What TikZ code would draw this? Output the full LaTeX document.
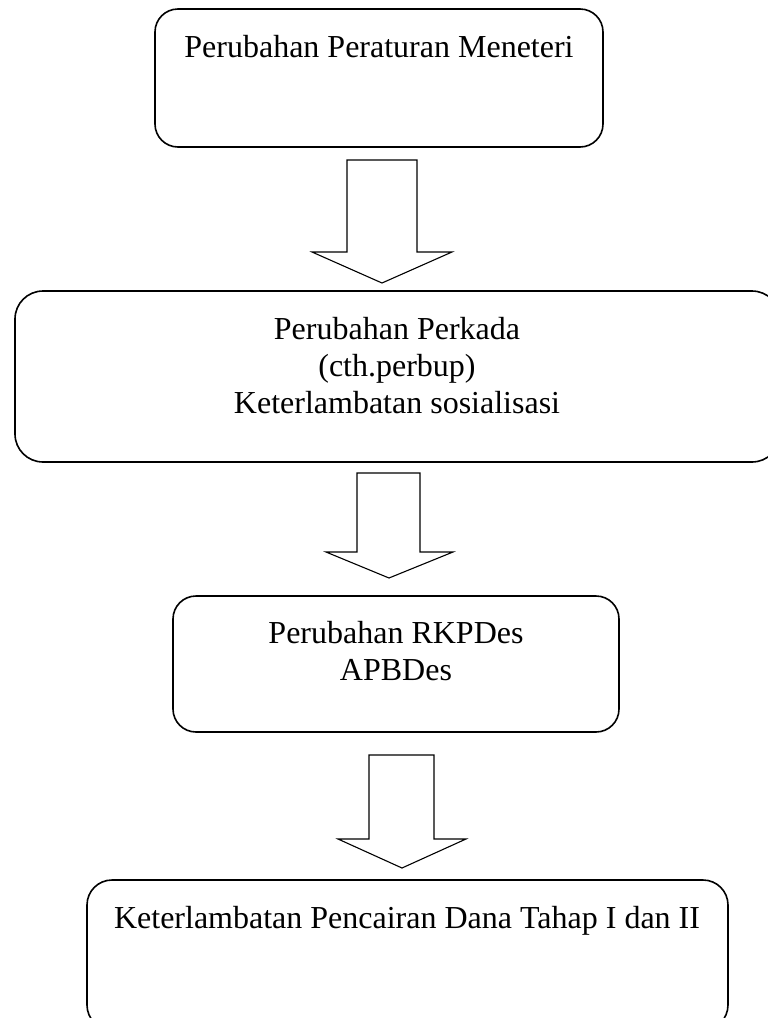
\documentclass[tikz,border=0pt]{standalone}
\usepackage{fontspec}
\setmainfont{Liberation Serif}
\begin{document}
\begin{tikzpicture}[x=1pt,y=-1pt,
  box/.style={draw, line width=1.6pt, inner sep=0pt},
  lbl/.style={anchor=base, inner sep=0pt, font=\fontsize{32}{37}\selectfont},
  blockarrow/.style={draw, line width=1.1pt, line join=miter}]
\useasboundingbox (0,0) rectangle (768,1018);
% boxes
\node[box, rounded corners=23pt, minimum width=448pt, minimum height=138pt] (b1) at (379,78) {};
\node[box, rounded corners=28pt, minimum width=765pt, minimum height=171pt] (b2) at (397.5,376.5) {};
\node[box, rounded corners=23pt, minimum width=446pt, minimum height=136pt] (b3) at (396,664) {};
\node[box, rounded corners=25pt, minimum width=641pt, minimum height=150pt] (b4) at (407.5,955) {};
% texts
\node[lbl] (t1) at (379,57) {Perubahan Peraturan Meneteri};
\node[lbl] (t2a) at (397,339) {Perubahan Perkada};
\node[lbl] (t2b) at (397,376) {(cth.perbup)};
\node[lbl] (t2c) at (397,413) {Keterlambatan sosialisasi};
\node[lbl] (t3a) at (396,643) {Perubahan RKPDes};
\node[lbl] (t3b) at (396,680) {APBDes};
\node[lbl] (t4) at (407,928) {Keterlambatan Pencairan Dana Tahap I dan II};
% block arrows
\draw[blockarrow] (347,160) -- (417,160) -- (417,252) -- (452,252) -- (382,283) -- (312,252) -- (347,252) -- cycle;
\draw[blockarrow] (357,473) -- (420,473) -- (420,552) -- (453,552) -- (389,578) -- (326,552) -- (357,552) -- cycle;
\draw[blockarrow] (369,755) -- (434,755) -- (434,839) -- (466,839) -- (402,868) -- (338,839) -- (369,839) -- cycle;
\end{tikzpicture}
\end{document}
